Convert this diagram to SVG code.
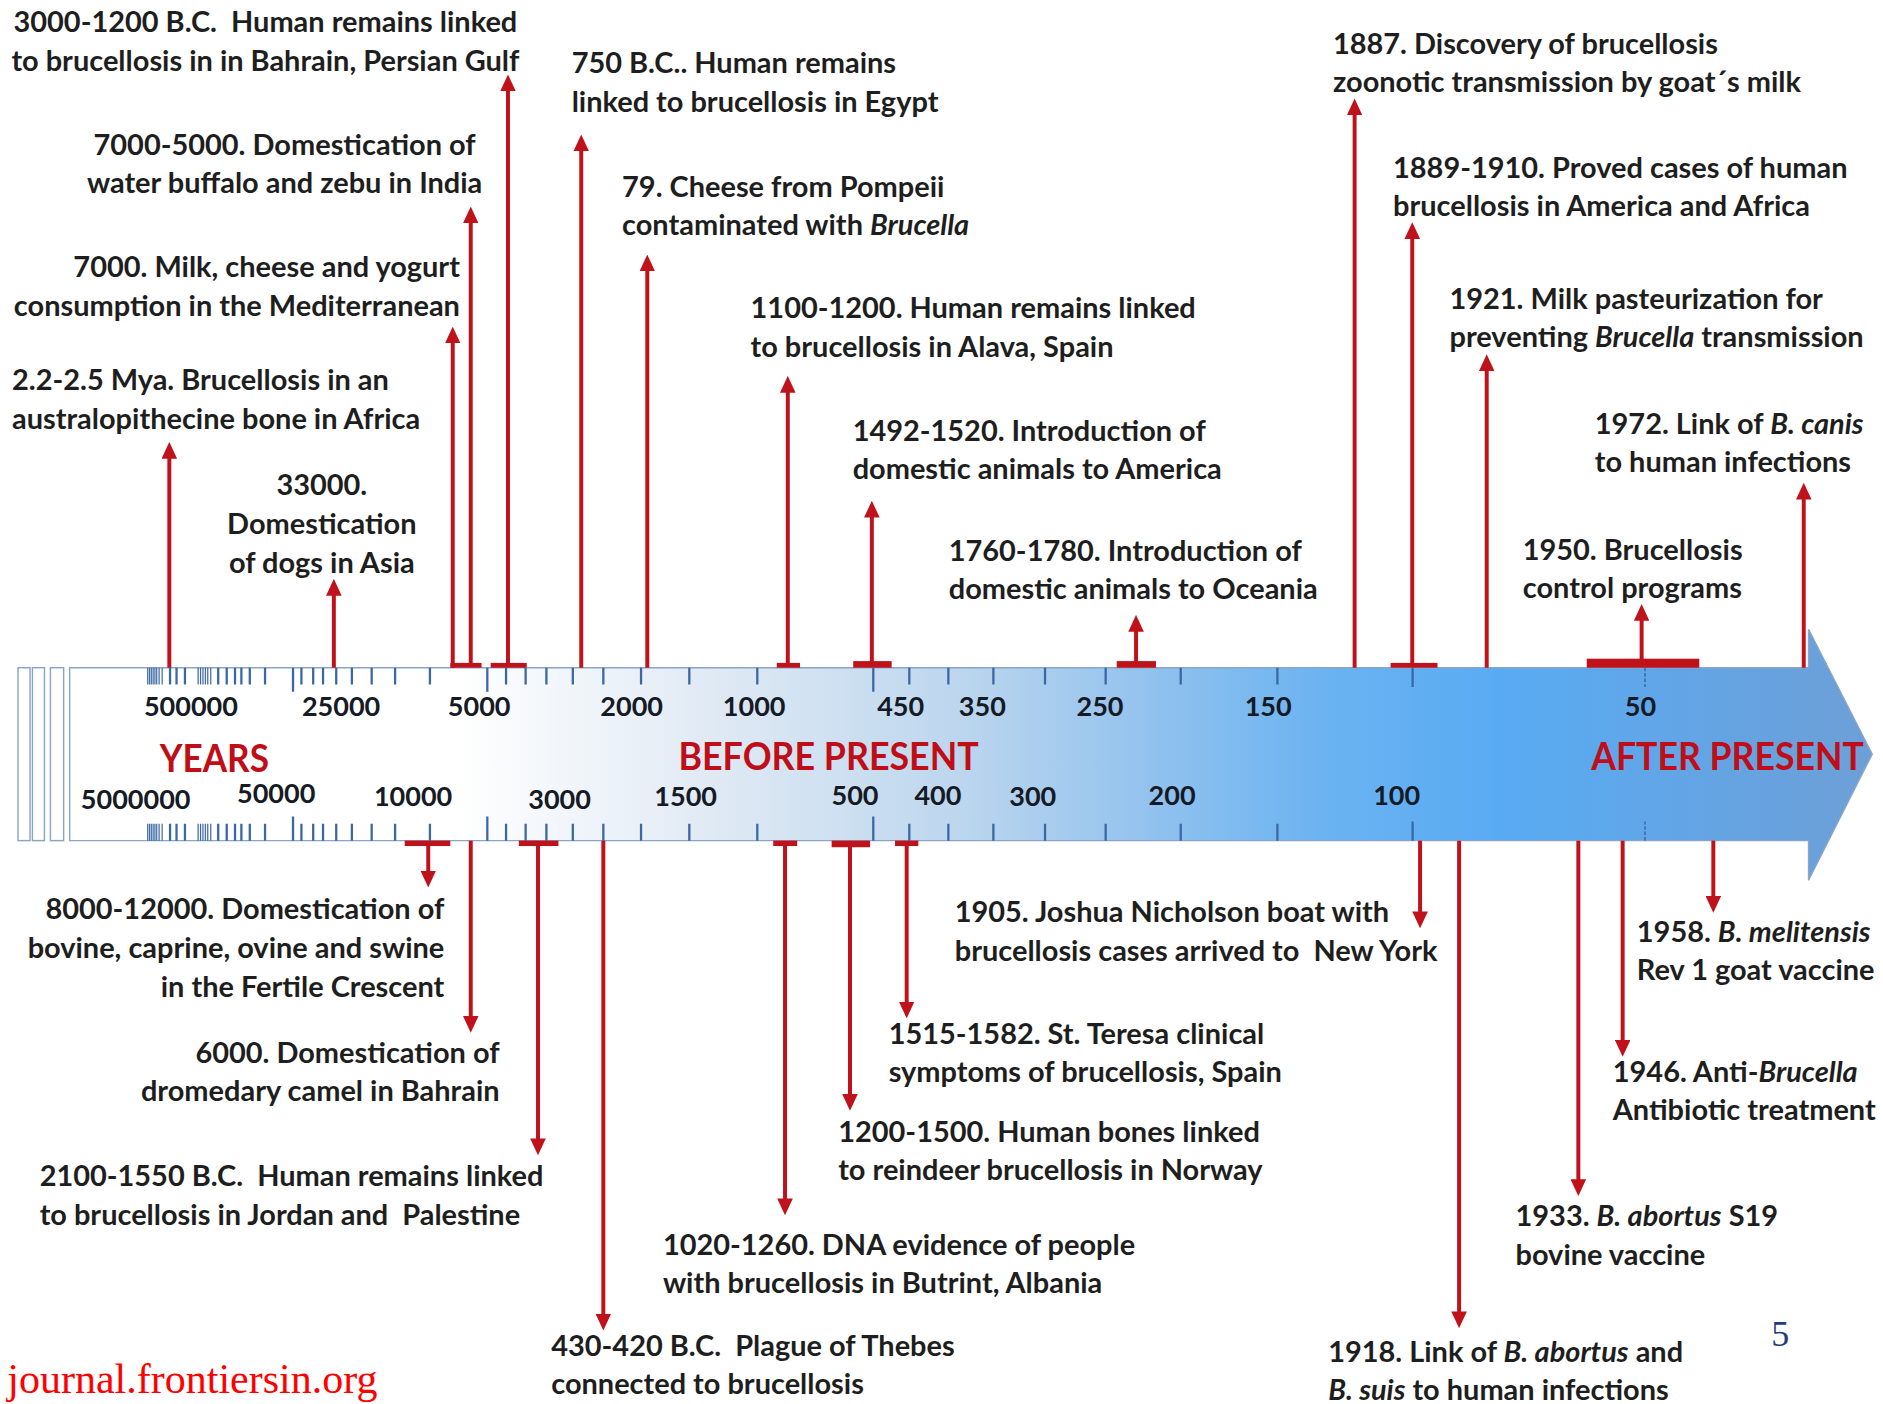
<svg xmlns="http://www.w3.org/2000/svg" width="1883" height="1404" viewBox="0 0 1883 1404">
<defs>
<style>
.t{font-family:Lato,'Liberation Sans',sans-serif;font-weight:700;font-size:24.1px;fill:#1e1e1e}
.r{text-anchor:end}
.m{text-anchor:middle}
.i{font-style:italic}
.tk{font-family:Lato,'Liberation Sans',sans-serif;font-weight:700;font-size:22.5px;fill:#151a24;text-anchor:middle}
.big{font-family:Lato,'Liberation Sans',sans-serif;font-weight:700;font-size:32px;fill:#c00e18}
.arr{stroke:#c0121a;stroke-width:3.3;fill:none;marker-end:url(#ah)}
.tb{fill:#c0121a}
.tick{stroke:#3a68a6;stroke-width:1.9;fill:none}
.thin{stroke:#3a68a6;stroke-width:1;fill:none}
.box{fill:#fff;stroke:#8aa5c5;stroke-width:1.2}
</style>
<linearGradient id="g" gradientUnits="userSpaceOnUse" x1="58" y1="0" x2="1560" y2="0">
<stop offset="0" stop-color="#ffffff"/>
<stop offset="0.214" stop-color="#ffffff"/>
<stop offset="0.361" stop-color="#dfe9f4"/>
<stop offset="0.494" stop-color="#bcd6ee"/>
<stop offset="0.594" stop-color="#94c3ee"/>
<stop offset="0.694" stop-color="#6bb3f1"/>
<stop offset="0.794" stop-color="#58abf3"/>
<stop offset="0.893" stop-color="#62a5e6"/>
<stop offset="1" stop-color="#6d9fd6"/>
</linearGradient>
<marker id="ah" markerUnits="userSpaceOnUse" markerWidth="14" markerHeight="13" viewBox="0 0 14 13" refX="4" refY="6.5" orient="auto">
<path d="M0,0 L14,6.5 L0,13 Z" fill="#c0121a"/>
</marker>
</defs>
<rect width="1883" height="1404" fill="#fff"/>
<g transform="scale(1.2009)">
<g id="timeline">
<rect class="box" x="15" y="556" width="10" height="144"/>
<rect class="box" x="27" y="556" width="10" height="144"/>
<rect class="box" x="42" y="556" width="11" height="144"/>
<path d="M58,556 L1506,556 L1506,524 L1559,628 L1506,733 L1506,700 L58,700 Z" fill="url(#g)" stroke="#8aa5c5" stroke-width="1.2"/>
<path class="thin" d="M123,556v14M124.5,556v14M126,556v14M127.5,556v14M129,556v14M130.5,556v14M132.5,556v14M135,556v14M165,556v14M167,556v14M169,556v14M171,556v14M173,556v14M175.5,556v14M123,700v-14M124.5,700v-14M126,700v-14M127.5,700v-14M129,700v-14M130.5,700v-14M132.5,700v-14M135,700v-14M165,700v-14M167,700v-14M169,700v-14M171,700v-14M173,700v-14M175.5,700v-14"/>
<path class="tick" d="M141.6,556v14M147,556v14M154,556v14M181.7,556v14M188.8,556v14M195.7,556v14M201,556v14M208,556v14M220.7,556v14M244,556v20M251,556v14M260.8,556v14M269,556v14M280,556v14M293,556v14M309.5,556v14M329,556v14M358,556v14M405.8,556v20M421.4,556v14M437.7,556v14M455,556v14M477,556v14M502.4,556v14M533.8,556v14M574,556v14M630.6,556v14M727.2,556v20M757.2,556v14M789.7,556v14M827.2,556v14M870.2,556v14M920.7,556v14M983.2,556v14M1063.7,556v14M1176.3,556v16"/>
<path class="tick" d="M141.6,700v-14M147,700v-14M154,700v-14M181.7,700v-14M188.8,700v-14M195.7,700v-14M201,700v-14M208,700v-14M220.7,700v-14M244,700v-20M251,700v-14M260.8,700v-14M269,700v-14M280,700v-14M293,700v-14M309.5,700v-14M329,700v-14M358,700v-14M405.8,700v-20M421.4,700v-14M437.7,700v-14M455,700v-14M477,700v-14M502.4,700v-14M533.8,700v-14M574,700v-14M630.6,700v-14M727.2,700v-20M757.2,700v-14M789.7,700v-14M827.2,700v-14M870.2,700v-14M920.7,700v-14M983.2,700v-14M1063.7,700v-14M1176.3,700v-16"/>
<path d="M1369.8,556v16M1369.8,700v-16" stroke="#3a68a6" stroke-width="1.2" stroke-dasharray="3,1.5"/>
<text class="tk" x="159" y="596">500000</text>
<text class="tk" x="284" y="596">25000</text>
<text class="tk" x="399" y="596">5000</text>
<text class="tk" x="526" y="596">2000</text>
<text class="tk" x="628" y="596">1000</text>
<text class="tk" x="750" y="596">450</text>
<text class="tk" x="818" y="596">350</text>
<text class="tk" x="916" y="596">250</text>
<text class="tk" x="1056" y="596">150</text>
<text class="tk" x="1366" y="596">50</text>
<text class="tk" x="113" y="674">5000000</text>
<text class="tk" x="230" y="669">50000</text>
<text class="tk" x="344" y="671">10000</text>
<text class="tk" x="466" y="674">3000</text>
<text class="tk" x="571" y="671">1500</text>
<text class="tk" x="712" y="670">500</text>
<text class="tk" x="781" y="670">400</text>
<text class="tk" x="860" y="671">300</text>
<text class="tk" x="976" y="670">200</text>
<text class="tk" x="1163" y="670">100</text>
<text class="big" x="133" y="643" textLength="91" lengthAdjust="spacingAndGlyphs">YEARS</text>
<text class="big" x="565" y="641" textLength="250" lengthAdjust="spacingAndGlyphs">BEFORE PRESENT</text>
<text class="big" x="1325" y="641" textLength="227" lengthAdjust="spacingAndGlyphs">AFTER PRESENT</text>
</g>
<g id="connectors">
<rect class="tb" x="375" y="552" width="26" height="4"/>
<rect class="tb" x="408.6" y="552" width="30" height="4"/>
<rect class="tb" x="646.8" y="552" width="19.4" height="4"/>
<rect class="tb" x="710.5" y="550.5" width="32" height="5.5"/>
<rect class="tb" x="929.9" y="550.5" width="32.7" height="5.5"/>
<rect class="tb" x="1158" y="552" width="39" height="4"/>
<rect class="tb" x="1321.3" y="548.5" width="93.7" height="7.5"/>
<rect class="tb" x="337" y="700" width="38" height="4.5"/>
<rect class="tb" x="432" y="700" width="33" height="4.5"/>
<rect class="tb" x="643.9" y="700" width="19.9" height="4.5"/>
<rect class="tb" x="692.5" y="700" width="32" height="5.5"/>
<rect class="tb" x="745.3" y="700" width="19.4" height="4.5"/>
<line class="arr" x1="141" y1="556" x2="141" y2="378"/>
<line class="arr" x1="278" y1="556" x2="278" y2="492"/>
<line class="arr" x1="377" y1="556" x2="377" y2="282"/>
<line class="arr" x1="392" y1="553" x2="392" y2="182"/>
<line class="arr" x1="423" y1="553" x2="423" y2="72"/>
<line class="arr" x1="484" y1="556" x2="484" y2="122"/>
<line class="arr" x1="539" y1="556" x2="539" y2="222"/>
<line class="arr" x1="656" y1="553" x2="656" y2="323"/>
<line class="arr" x1="726" y1="552" x2="726" y2="427"/>
<line class="arr" x1="946" y1="552" x2="946" y2="522"/>
<line class="arr" x1="1128" y1="556" x2="1128" y2="92"/>
<line class="arr" x1="1176" y1="553" x2="1176" y2="195"/>
<line class="arr" x1="1238" y1="556" x2="1238" y2="305"/>
<line class="arr" x1="1367" y1="550" x2="1367" y2="513"/>
<line class="arr" x1="1502" y1="556" x2="1502" y2="412"/>
<line class="arr" x1="356.6" y1="703" x2="356.6" y2="729"/>
<line class="arr" x1="392" y1="700" x2="392" y2="850"/>
<line class="arr" x1="448" y1="703" x2="448" y2="952"/>
<line class="arr" x1="502.4" y1="700" x2="502.4" y2="1098"/>
<line class="arr" x1="653.7" y1="703" x2="653.7" y2="1002"/>
<line class="arr" x1="707.8" y1="703" x2="707.8" y2="915"/>
<line class="arr" x1="755" y1="703" x2="755" y2="838"/>
<line class="arr" x1="1182.5" y1="700" x2="1182.5" y2="763"/>
<line class="arr" x1="1215" y1="700" x2="1215" y2="1096"/>
<line class="arr" x1="1314.3" y1="700" x2="1314.3" y2="986"/>
<line class="arr" x1="1351.2" y1="700" x2="1351.2" y2="870"/>
<line class="arr" x1="1426.7" y1="700" x2="1426.7" y2="750"/>
</g>
<g id="ev-bahrain"><text class="t m" x="221" y="27" xml:space="preserve">3000-1200 B.C.  Human remains linked</text><text class="t m" x="221" y="59">to brucellosis in in Bahrain, Persian Gulf</text></g>
<g id="ev-buffalo"><text class="t m" x="237" y="129">7000-5000. Domestication of</text><text class="t m" x="237" y="161">water buffalo and zebu in India</text></g>
<g id="ev-milk"><text class="t r" x="383" y="231">7000. Milk, cheese and yogurt</text><text class="t r" x="383" y="263">consumption in the Mediterranean</text></g>
<g id="ev-mya"><text class="t" x="10" y="325">2.2-2.5 Mya. Brucellosis in an</text><text class="t" x="10" y="357">australopithecine bone in Africa</text></g>
<g id="ev-dogs"><text class="t m" x="268" y="412">33000.</text><text class="t m" x="268" y="445">Domestication</text><text class="t m" x="268" y="477">of dogs in Asia</text></g>
<g id="ev-egypt"><text class="t" x="476" y="61">750 B.C.. Human remains</text><text class="t" x="476" y="93">linked to brucellosis in Egypt</text></g>
<g id="ev-pompeii"><text class="t" x="518" y="164">79. Cheese from Pompeii</text><text class="t" x="518" y="196">contaminated with <tspan class="i">Brucella</tspan></text></g>
<g id="ev-alava"><text class="t" x="625" y="265">1100-1200. Human remains linked</text><text class="t" x="625" y="297">to brucellosis in Alava, Spain</text></g>
<g id="ev-america"><text class="t" x="710" y="367">1492-1520. Introduction of</text><text class="t" x="710" y="399">domestic animals to America</text></g>
<g id="ev-oceania"><text class="t" x="790" y="467">1760-1780. Introduction of</text><text class="t" x="790" y="499">domestic animals to Oceania</text></g>
<g id="ev-1887"><text class="t" x="1110" y="45">1887. Discovery of brucellosis</text><text class="t" x="1110" y="77">zoonotic transmission by goat´s milk</text></g>
<g id="ev-1889"><text class="t" x="1160" y="148">1889-1910. Proved cases of human</text><text class="t" x="1160" y="180">brucellosis in America and Africa</text></g>
<g id="ev-1921"><text class="t" x="1207" y="257">1921. Milk pasteurization for</text><text class="t" x="1207" y="289">preventing <tspan class="i">Brucella</tspan> transmission</text></g>
<g id="ev-1972"><text class="t" x="1328" y="361">1972. Link of <tspan class="i">B. canis</tspan></text><text class="t" x="1328" y="393">to human infections</text></g>
<g id="ev-1950"><text class="t" x="1268" y="466">1950. Brucellosis</text><text class="t" x="1268" y="498">control programs</text></g>
<g id="ev-fertile"><text class="t r" x="370" y="765">8000-12000. Domestication of</text><text class="t r" x="370" y="798">bovine, caprine, ovine and swine</text><text class="t r" x="370" y="830">in the Fertile Crescent</text></g>
<g id="ev-camel"><text class="t r" x="416" y="885">6000. Domestication of</text><text class="t r" x="416" y="917">dromedary camel in Bahrain</text></g>
<g id="ev-jordan"><text class="t" x="33" y="988" xml:space="preserve">2100-1550 B.C.  Human remains linked</text><text class="t" x="33" y="1020" xml:space="preserve">to brucellosis in Jordan and  Palestine</text></g>
<g id="ev-thebes"><text class="t" x="459" y="1129" xml:space="preserve">430-420 B.C.  Plague of Thebes</text><text class="t" x="459" y="1161">connected to brucellosis</text></g>
<g id="ev-butrint"><text class="t" x="552" y="1045">1020-1260. DNA evidence of people</text><text class="t" x="552" y="1077">with brucellosis in Butrint, Albania</text></g>
<g id="ev-norway"><text class="t" x="698" y="951">1200-1500. Human bones linked</text><text class="t" x="698" y="983">to reindeer brucellosis in Norway</text></g>
<g id="ev-teresa"><text class="t" x="740" y="869">1515-1582. St. Teresa clinical</text><text class="t" x="740" y="901">symptoms of brucellosis, Spain</text></g>
<g id="ev-1905"><text class="t" x="795" y="768">1905. Joshua Nicholson boat with</text><text class="t" x="795" y="800" xml:space="preserve">brucellosis cases arrived to  New York</text></g>
<g id="ev-1958"><text class="t" x="1363" y="784">1958. <tspan class="i">B. melitensis</tspan></text><text class="t" x="1363" y="816">Rev 1 goat vaccine</text></g>
<g id="ev-1946"><text class="t" x="1343" y="901">1946. Anti-<tspan class="i">Brucella</tspan></text><text class="t" x="1343" y="933">Antibiotic treatment</text></g>
<g id="ev-1933"><text class="t" x="1262" y="1021">1933. <tspan class="i">B. abortus</tspan> S19</text><text class="t" x="1262" y="1053">bovine vaccine</text></g>
<g id="ev-1918"><text class="t" x="1106" y="1134">1918. Link of <tspan class="i">B. abortus</tspan> and</text><text class="t" x="1106" y="1166"><tspan class="i">B. suis</tspan> to human infections</text></g>
<text x="1475" y="1121" font-family="'Liberation Serif',serif" font-size="30" fill="#1f3d7a">5</text>
<text x="6" y="1160" font-family="'Liberation Serif',serif" font-size="35" fill="#f00">journal.frontiersin.org</text>
</g>
</svg>
